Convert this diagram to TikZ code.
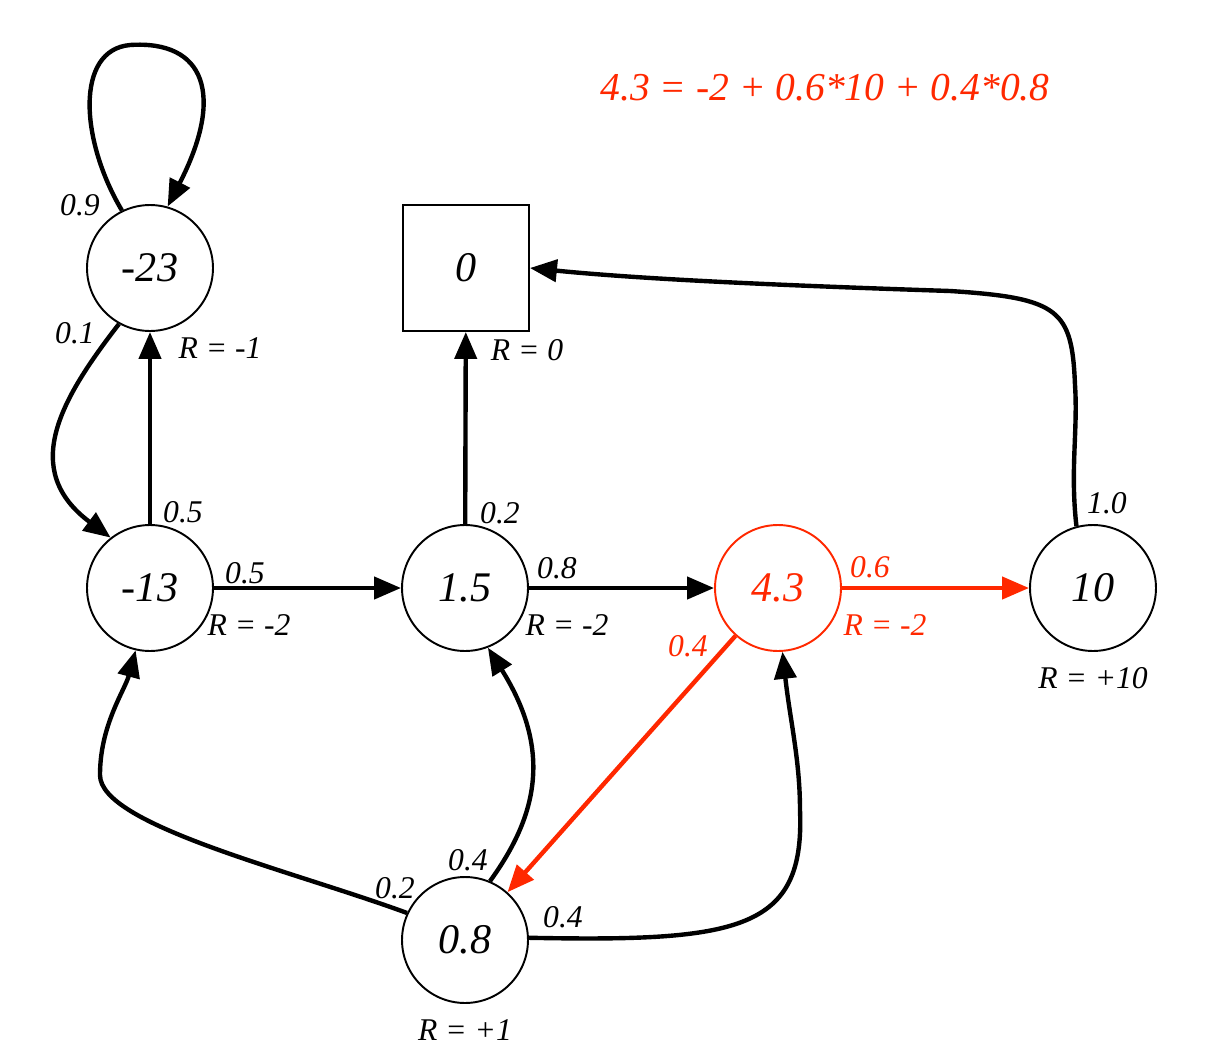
\documentclass[tikz,border=0pt]{standalone}
\usepackage{fontspec}
\setmainfont{Liberation Serif}
\usetikzlibrary{arrows.meta,positioning,calc}
\definecolor{hot}{RGB}{255,40,0}
\tikzset{%
  % states
  state/.style={draw, circle, line width=1.1pt, minimum size=2.52cm, inner sep=0pt,
    font=\fontsize{24}{26}\selectfont\itshape},
  term/.style={state, rectangle},
  hotstate/.style={state, draw=hot, text=hot},
  % edges
  edge/.style={-{Triangle[length=0.54cm, width=0.44cm]}, line width=2.5pt},
  hotedge/.style={edge, draw=hot, color=hot},
  % labels
  lbl/.style={font=\fontsize{18}{20}\selectfont\itshape, inner sep=1pt},
  hotlbl/.style={lbl, text=hot},
}
\begin{document}
\begin{tikzpicture}[x=0.02cm, y=-0.02cm]
  \useasboundingbox (0,0) rectangle (1232,1052);

  \node[state] (n23) at (150,268) {-23};
  \node[term] (sq) at (466,268) {0};
  \node[state] (n13) at (150,588) {-13};
  \node[state] (n15) at (465,588) {1.5};
  \node[hotstate] (n43) at (778,588) {4.3};
  \node[state] (n10) at (1093,588) {10};
  \node[state] (n08) at (465,940) {0.8};

  % rewards
  \node[lbl] (r23) at (220,348) {R = -1};
  \node[lbl] (r0) at (527,350) {R = 0};
  \node[lbl] (r13) at (249,625) {R = -2};
  \node[lbl] (r15) at (567,625) {R = -2};
  \node[hotlbl] (r43) at (885,625) {R = -2};
  \node[lbl] (r10) at (1093,678) {R = +10};
  \node[lbl] (r08) at (465,1030) {R = +1};

  \node[text=hot, font=\fontsize{22.5}{24}\selectfont\itshape] (eq) at (825,88)
    {4.3 = -2 + 0.6*10 + 0.4*0.8};

  % edges
  \draw[edge] (n23.116) .. controls (80,140) and (75,50) .. (130,45)
    .. controls (205,40) and (225,95) .. (n23.74);
  \draw[edge] (n23.241) .. controls (60,400) and (20,470) .. (n13.128);
  \draw[edge] (n13) -- (n23);
  \draw[edge] (n13) -- (n15);
  \draw[edge] (n15) -- (sq);
  \draw[edge] (n15) -- (n43);
  \draw[hotedge] (n43) -- (n10);
  \draw[hotedge] (n43) -- (n08);
  \draw[edge] (n10.105) .. controls (1070,470) and (1078,430) .. (1075,385)
    .. controls (1072,310) and (1060,298) .. (950,291)
    .. controls (800,286) and (650,280) .. (sq.east);
  \draw[edge] (n08.155) .. controls (290,870) and (100,825) .. (100,775)
    .. controls (100,725) and (125,690) .. (n13.257);
  \draw[edge] (n08.67) .. controls (538,815) and (552,750) .. (n15.291);
  \draw[edge] (n08.2) .. controls (740,942) and (805,930) .. (800,810)
    .. controls (800,760) and (790,720) .. (n43.274);

  % probabilities
  \node[lbl] (p1) at (80,205) {0.9};
  \node[lbl] (p2) at (75,333) {0.1};
  \node[lbl] (p3) at (183,512) {0.5};
  \node[lbl] (p4) at (245,573) {0.5};
  \node[lbl] (p5) at (500,513) {0.2};
  \node[lbl] (p6) at (557,568) {0.8};
  \node[hotlbl] (p7) at (870,567) {0.6};
  \node[hotlbl] (p8) at (688,646) {0.4};
  \node[lbl] (p9) at (1107,503) {1.0};
  \node[lbl] (p10) at (395,888) {0.2};
  \node[lbl] (p11) at (468,860) {0.4};
  \node[lbl] (p12) at (563,917) {0.4};
\end{tikzpicture}
\end{document}
